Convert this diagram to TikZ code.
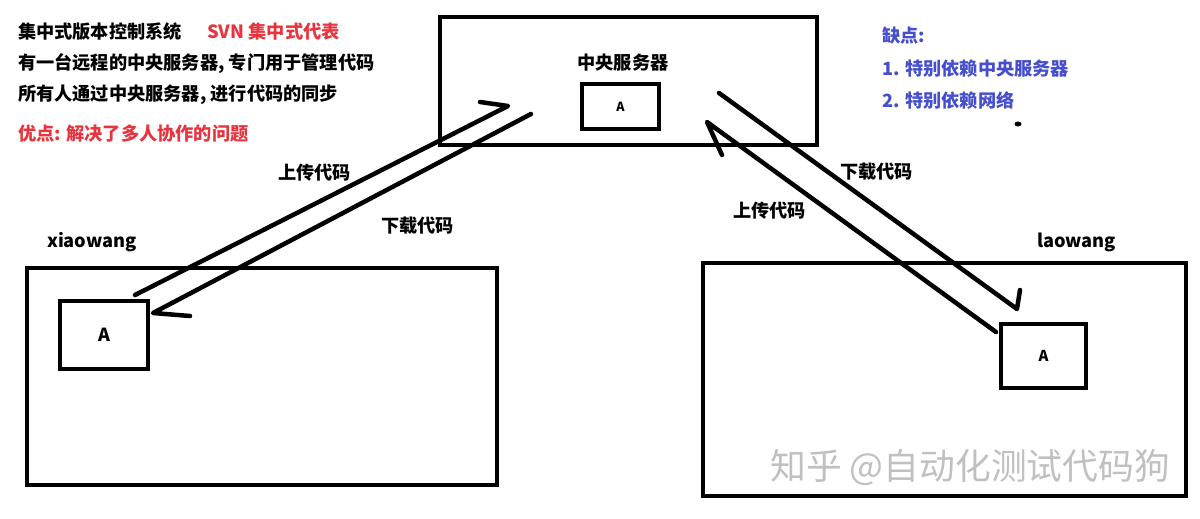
\documentclass[tikz,border=0pt]{standalone}
\usepackage{fontspec}
\setmainfont{Noto Sans CJK SC}
\definecolor{txtred}{RGB}{232,52,62}
\definecolor{txtblue}{RGB}{70,78,205}
\definecolor{wmgray}{RGB}{192,192,192}
\begin{document}
\begin{tikzpicture}[x=1pt,y=-1pt,
  frame/.style={draw, line width=4pt, inner sep=0pt, rectangle},
  lbl/.style={inner sep=0pt, anchor=west, font=\fontsize{18.2}{20}\selectfont\bfseries},
  arr/.style={line width=4.5pt, line cap=round, line join=round}]
\useasboundingbox (0,0) rectangle (1200,519);
\fill[white] (0,0) rectangle (1200,519);
% boxes
\node[frame, minimum width=377pt, minimum height=128pt] (server) at (628.5,81) {};
\node[frame, line width=3.5pt, minimum width=77pt, minimum height=45pt, font=\fontsize{12.5}{14}\selectfont\bfseries] (sA) at (620.5,106.5) {A};
\node[frame, minimum width=470pt, minimum height=217pt] (xbox) at (262,376.5) {};
\node[frame, minimum width=88pt, minimum height=68pt, font=\fontsize{18}{20}\selectfont\bfseries] (xA) at (104,335) {A};
\node[frame, minimum width=483pt, minimum height=233pt] (lbox) at (944.5,379.5) {};
\node[frame, minimum width=85pt, minimum height=64pt, font=\fontsize{15}{17}\selectfont\bfseries] (lA) at (1043.5,356) {A};
% labels
\node[lbl, anchor=center] (stitle) at (623,63) {中央服务器};
\node[lbl] (t1) at (18,32) {集中式版本控制系统};
\node[lbl, text=txtred] (t1b) at (207,32) {SVN 集中式代表};
\node[lbl] (t2) at (18,64) {有一台远程的中央服务器, 专门用于管理代码};
\node[lbl] (t3) at (18,95) {所有人通过中央服务器, 进行代码的同步};
\node[lbl, text=txtred] (t4) at (18,134) {优点: 解决了多人协作的问题};
\node[lbl, text=txtblue] (c0) at (882,36) {缺点:};
\node[lbl, text=txtblue] (c1) at (882,69) {1. 特别依赖中央服务器};
\node[lbl, text=txtblue] (c2) at (882,101) {2. 特别依赖网络};
\node[lbl] (xname) at (47,242) {xiaowang};
\node[lbl] (lname) at (1037,242) {laowang};
\node[lbl] (up1) at (278,173) {上传代码};
\node[lbl] (dn1) at (381,226) {下载代码};
\node[lbl] (dn2) at (840,172) {下载代码};
\node[lbl] (up2) at (733,211) {上传代码};
\node[inner sep=0pt, anchor=west, text=wmgray, font=\fontsize{35.8}{40}\selectfont] (wm) at (770,468) {知乎 @自动化测试代码狗};
% arrow end points
\coordinate (lus) at (135,295);
\coordinate (lut) at (508,106);
\coordinate (luh) at (480,102);
\coordinate (lds) at (531,114);
\coordinate (ldt) at (153,313);
\coordinate (ldh) at (190,316);
\coordinate (rus) at (996,332);
\coordinate (rut) at (707,122);
\coordinate (ruh) at (722,155);
\coordinate (rds) at (719,93);
\coordinate (rdt) at (1017,309);
\coordinate (rdh) at (1020,290);
\draw[arr] (lus) -- (lut) -- (luh);
\draw[arr] (lds) -- (ldt) -- (ldh);
\draw[arr] (rus) -- (rut) -- (ruh);
\draw[arr] (rds) -- (rdt) -- (rdh);
% stray dot
\fill (1018,124) ellipse (3.5pt and 2.5pt);
\end{tikzpicture}
\end{document}
